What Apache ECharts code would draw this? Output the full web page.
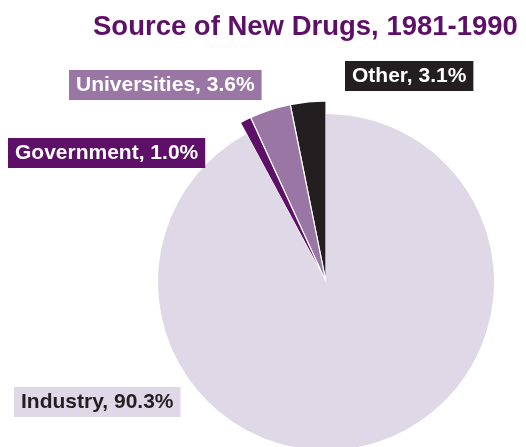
<!DOCTYPE html>
<html>
<head>
<meta charset="utf-8">
<script src="https://cdn.jsdelivr.net/npm/echarts@6/dist/echarts.min.js"></script>
<style>
  html, body { margin: 0; padding: 0; background: #fff; }
  #Chart { width: 526px; height: 447px; }
</style>
</head>
<body>
<div id="Chart"></div>
<script>
// data
var names = ["Other", "Universities", "Government", "Industry"];
var values = [3.1, 3.6, 1.0, 90.3];
var colors = ["#231f20", "#9a76a5", "#5e0f68", "#dfd9e7"];
var labelColors = ["#ffffff", "#ffffff", "#ffffff", "#231f20"];

// where each label box sits (left, top)
var labelBox = {
    "Other": [345, 61],
    "Universities": [69, 70],
    "Government": [8, 138],
    "Industry": [14, 387]
};

var font = "'Liberation Sans', Arial, Helvetica, sans-serif";
var bigIndex = 3;

var outerData = names.map(function (n, i) {
    var big = i === bigIndex;
    return {
        name: n,
        value: values[i],
        itemStyle: {
            color: big ? "rgba(0,0,0,0)" : colors[i],
            borderWidth: big ? 0 : 1.2
        }
    };
});
var innerData = names.map(function (n, i) {
    var big = i === bigIndex;
    return {
        name: n,
        value: values[i],
        itemStyle: {
            color: big ? colors[i] : "rgba(0,0,0,0)",
            borderWidth: 0
        }
    };
});

var labels = names.map(function (n, i) {
    return {
        type: "text",
        left: labelBox[n][0],
        top: labelBox[n][1],
        z: 10,
        silent: true,
        style: {
            text: n + ", " + values[i].toFixed(1) + "%",
            fill: labelColors[i],
            font: "bold 21px " + font,
            backgroundColor: colors[i],
            padding: [5, 7, 4, 7]
        }
    };
});

var myChart = echarts.init(document.getElementById("Chart"));
var option = {
    animation: false,
    title: {
        text: "Source of New Drugs, 1981-1990",
        left: 93,
        top: 13,
        padding: 0,
        textStyle: {
            color: "#5e0f68",
            fontSize: 27.5,
            fontWeight: "bold",
            fontFamily: font
        }
    },
    graphic: labels,
    series: [
        {
            type: "pie",
            center: [326, 282],
            radius: [0, 181],
            startAngle: 90,
            clockwise: false,
            silent: true,
            itemStyle: {
                borderColor: "#ffffff"
            },
            label: { show: false },
            labelLine: { show: false },
            data: outerData
        },
        {
            type: "pie",
            center: [326, 282],
            radius: [0, 168],
            startAngle: 90,
            clockwise: false,
            silent: true,
            label: { show: false },
            labelLine: { show: false },
            data: innerData
        }
    ]
};
myChart.setOption(option);
window.addEventListener("resize", function () {
    myChart.resize();
});
</script>
</body>
</html>
